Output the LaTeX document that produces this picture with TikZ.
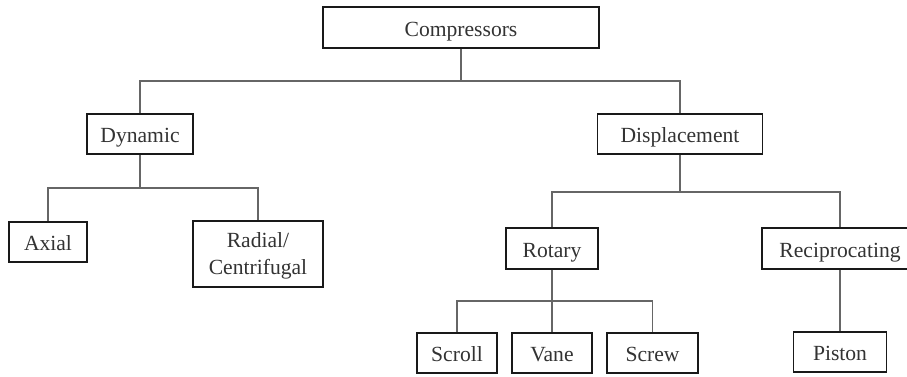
\documentclass[tikz,border=0pt]{standalone}
\usepackage{fontspec}
\setmainfont{Liberation Serif}
\begin{document}
\begin{tikzpicture}[x=1pt,y=1pt,
  box/.style={draw=black!90, line width=1.6pt, fill=white, inner sep=0pt,
    font=\fontsize{21.6}{27}\selectfont, text=black!80},
  one/.style={box, text height=18pt, text depth=0.8pt},
  two/.style={box, align=center, text depth=0pt},
  conn/.style={draw=black!60, line width=1.1pt}]
\clip (0,0) rectangle (907,376);
\fill[white] (0,0) rectangle (907,376);
% nodes
\node[one, minimum width=276, minimum height=41] (comp) at (461,348.5) {Compressors};
\node[one, minimum width=106, minimum height=40] (dyn) at (140,242) {Dynamic};
\node[one, minimum width=165, minimum height=40] (disp) at (680,242) {Displacement};
\node[one, minimum width=78, minimum height=40] (axial) at (48,134) {Axial};
\node[two, minimum width=130, minimum height=66] (radial) at (258,122) {Radial/\\Centrifugal};
\node[one, minimum width=92, minimum height=41] (rot) at (552,127.5) {Rotary};
\node[one, minimum width=156, minimum height=41] (recip) at (840,127.5) {Reciprocating};
\node[one, minimum width=80, minimum height=40] (scroll) at (457,23) {Scroll};
\node[one, minimum width=80, minimum height=40] (vane) at (552,23) {Vane};
\node[one, minimum width=91, minimum height=40] (screw) at (652.5,23) {Screw};
\node[one, minimum width=93, minimum height=40] (piston) at (840,24) {Piston};
% bar coordinates
\coordinate (b1) at (461,295);
\coordinate (b2) at (140,188);
\coordinate (b3) at (680,184);
\coordinate (b4) at (552,75);
% connectors
\draw[conn] (comp.south) -- (b1);
\draw[conn] (dyn.north) |- (b1) -| (disp.north);
\draw[conn] (dyn.south) -- (b2);
\draw[conn] (axial.north) |- (b2) -| (radial.north);
\draw[conn] (disp.south) -- (b3);
\draw[conn] (rot.north) |- (b3) -| (recip.north);
\draw[conn] (rot.south) -- (vane.north);
\draw[conn] (scroll.north) |- (b4) -| (screw.north);
\draw[conn] (recip.south) -- (piston.north);
\end{tikzpicture}
\end{document}
